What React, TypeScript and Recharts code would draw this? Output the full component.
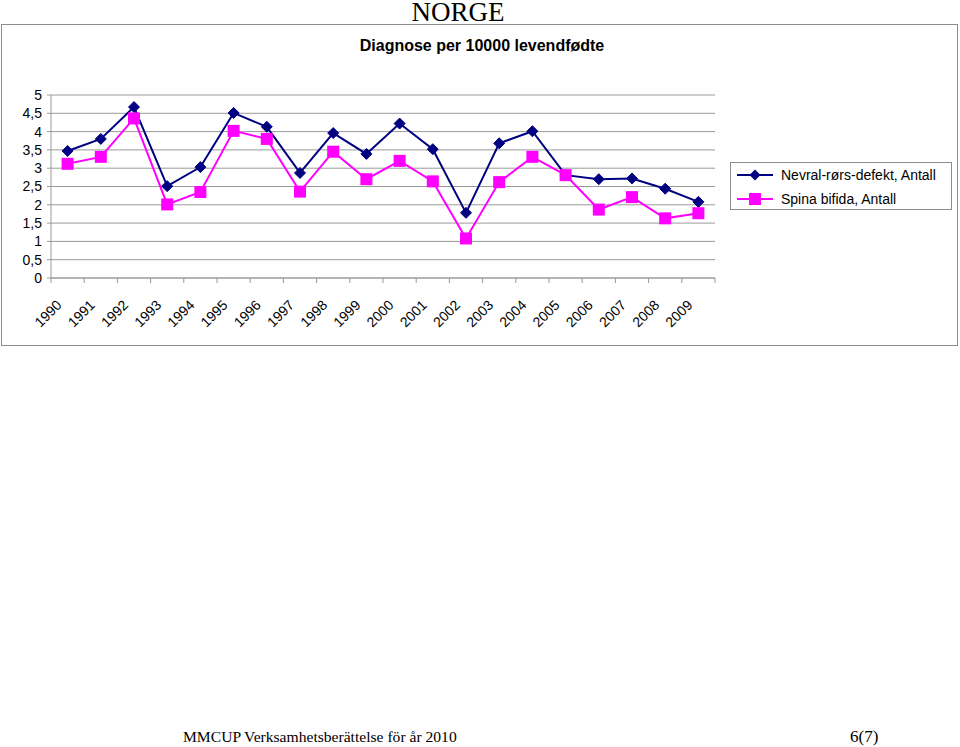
import React from 'react';
import {
  LineChart,
  Line,
  XAxis,
  YAxis,
  CartesianGrid,
  Legend,
} from 'recharts';

const years = [
  '1990', '1991', '1992', '1993', '1994', '1995', '1996', '1997', '1998', '1999',
  '2000', '2001', '2002', '2003', '2004', '2005', '2006', '2007', '2008', '2009',
];
const nevral = [3.47, 3.8, 4.67, 2.51, 3.03, 4.51, 4.13, 2.87, 3.96, 3.39, 4.22, 3.52, 1.78, 3.68, 4.01, 2.81, 2.7, 2.72, 2.44, 2.08];
const spina = [3.12, 3.31, 4.36, 2.01, 2.35, 4.02, 3.8, 2.36, 3.45, 2.7, 3.2, 2.64, 1.08, 2.62, 3.31, 2.81, 1.87, 2.21, 1.63, 1.77];
const yTicks = [0, 0.5, 1, 1.5, 2, 2.5, 3, 3.5, 4, 4.5, 5];

const NEVRAL_NAME = 'Nevral-rørs-defekt, Antall';
const SPINA_NAME = 'Spina bifida, Antall';

const data = years.map((year, i) => ({ year, nevral: nevral[i], spina: spina[i] }));

const SANS = '"Liberation Sans", Arial, sans-serif';
const SERIF = '"Liberation Serif", "Times New Roman", serif';
const NAVY = '#000080';
const PINK = '#ff00ff';
const GRID = '#9a9a9a';

// plot area is 664px wide, one band per year
const PLOT_W = 664;
const HALF_BAND = PLOT_W / years.length / 2;

const diamond = (props: any) => {
  const { cx, cy, index } = props;
  if (cx == null || cy == null) return <g key={`d${index}`} />;
  const r = 5.5;
  return (
    <polygon
      key={`d${index}`}
      points={`${cx},${cy - r} ${cx + r},${cy} ${cx},${cy + r} ${cx - r},${cy}`}
      fill={NAVY}
      stroke={NAVY}
    />
  );
};

const square = (props: any) => {
  const { cx, cy, index } = props;
  if (cx == null || cy == null) return <g key={`s${index}`} />;
  const s = 6;
  return <rect key={`s${index}`} x={cx - s} y={cy - s} width={s * 2} height={s * 2} fill={PINK} />;
};

const YearTick = (props: any) => {
  const { x, y, payload, index } = props;
  const tx = x - 5;
  const ty = y + 28;
  return (
    <g>
      <line x1={x - HALF_BAND} y1={y} x2={x - HALF_BAND} y2={y + 5} stroke={GRID} />
      {index === years.length - 1 && (
        <line x1={x + HALF_BAND} y1={y} x2={x + HALF_BAND} y2={y + 5} stroke={GRID} />
      )}
      <text
        x={tx}
        y={ty}
        transform={`rotate(-45, ${tx}, ${ty})`}
        textAnchor="end"
        fontSize={14}
        fontFamily={SANS}
        fill="#000"
      >
        {payload.value}
      </text>
    </g>
  );
};

const LegendBox = () => (
  <div style={{ fontFamily: SANS, fontSize: 14, color: '#000' }}>
    {[
      { name: NEVRAL_NAME, color: NAVY, kind: 'diamond' },
      { name: SPINA_NAME, color: PINK, kind: 'square' },
    ].map((item) => (
      <div key={item.name} style={{ display: 'flex', alignItems: 'center', height: 24 }}>
        <svg width={46} height={14} style={{ marginLeft: 4 }}>
          <line x1={2} y1={7} x2={38} y2={7} stroke={item.color} strokeWidth={2} />
          {item.kind === 'diamond' ? (
            <polygon points="20,1.5 25.5,7 20,12.5 14.5,7" fill={item.color} />
          ) : (
            <rect x={14} y={1} width={12} height={12} fill={item.color} />
          )}
        </svg>
        <span>{item.name}</span>
      </div>
    ))}
  </div>
);

export default function App() {
  return (
    <div style={{ position: 'absolute', left: 0, top: 0, width: 960, height: 747, background: '#fff' }}>
      <svg width={960} height={747} style={{ position: 'absolute', left: 0, top: 0 }}>
        <text x={458} y={21} textAnchor="middle" fontFamily={SERIF} fontSize={27} fill="#000">
          NORGE
        </text>
        <text x={183} y={742} fontFamily={SERIF} fontSize={15.6} fill="#000">
          MMCUP Verksamhetsberättelse för år 2010
        </text>
        <text x={850} y={742} fontFamily={SERIF} fontSize={17} fill="#000">
          6(7)
        </text>
      </svg>
      <div
        style={{
          position: 'absolute',
          left: 1,
          top: 24,
          width: 957,
          height: 322,
          border: '1px solid #8c8c8c',
          boxSizing: 'border-box',
          background: '#fff',
        }}
      >
        <div
          style={{
            position: 'absolute',
            left: 0,
            top: 12,
            width: 960,
            textAlign: 'center',
            fontFamily: SANS,
            fontWeight: 'bold',
            fontSize: 16,
            color: '#000',
          }}
        >
          Diagnose per 10000 levendfødte
        </div>
        <LineChart
          width={955}
          height={320}
          data={data}
          margin={{ top: 70, right: 242, left: 0, bottom: 0 }}
        >
          <CartesianGrid horizontal vertical={false} stroke={GRID} strokeWidth={1} />
          <XAxis
            dataKey="year"
            scale="band"
            height={67}
            axisLine={{ stroke: GRID }}
            tickLine={false}
            tickSize={0}
            tickMargin={0}
            interval={0}
            tick={<YearTick />}
          />
          <YAxis
            domain={[0, 5]}
            ticks={yTicks}
            width={49}
            interval={0}
            axisLine={{ stroke: GRID }}
            tickLine={{ stroke: GRID }}
            tickSize={4}
            tickMargin={5}
            tick={{ fill: '#000', fontSize: 14, fontFamily: SANS }}
            tickFormatter={(v: number) => String(v).replace('.', ',')}
          />
          <YAxis
            yAxisId="frame"
            orientation="right"
            domain={[0, 5]}
            width={0}
            tick={false}
            tickLine={false}
            axisLine={{ stroke: GRID }}
          />
          <Legend
            layout="horizontal"
            verticalAlign="middle"
            align="center"
            content={<LegendBox />}
            wrapperStyle={{
              left: 728,
              top: 137,
              width: 222,
              height: 48,
              border: '1px solid #8c8c8c',
              boxSizing: 'border-box',
              background: '#fff',
            }}
          />
          <Line
            type="linear"
            dataKey="nevral"
            name={NEVRAL_NAME}
            stroke={NAVY}
            strokeWidth={2}
            dot={diamond}
            activeDot={false}
            isAnimationActive={false}
          />
          <Line
            type="linear"
            dataKey="spina"
            name={SPINA_NAME}
            stroke={PINK}
            strokeWidth={2}
            dot={square}
            activeDot={false}
            isAnimationActive={false}
          />
        </LineChart>
      </div>
    </div>
  );
}
